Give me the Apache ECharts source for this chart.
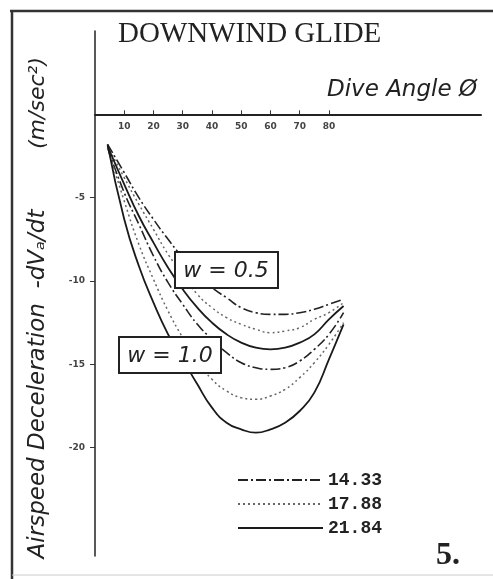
<!DOCTYPE html>
<html>
<head>
<meta charset="utf-8">
<script src="https://cdn.jsdelivr.net/npm/echarts@6/dist/echarts.min.js"></script>
<style>
html,body{margin:0;padding:0;background:#fff;}
#chart{width:493px;height:579px;}
</style>
</head>
<body>
<div id="chart"></div>
<script>
// Dive angle (degrees)
const angles = [4.3, 10, 15, 20, 25, 30, 35, 40, 45, 50, 55, 60, 65, 70, 75, 80, 85];
// Airspeed deceleration, w = 0.5
const w05_1433 = [-1.8, -3.5, -5.0, -6.3, -7.5, -8.6, -9.6, -10.4, -11.0, -11.6, -11.9, -12.0, -12.0, -11.9, -11.7, -11.4, -11.1];
const w05_1788 = [-1.9, -3.8, -5.4, -6.9, -8.4, -9.6, -10.8, -11.6, -12.2, -12.6, -12.9, -13.1, -13.0, -12.8, -12.3, -11.9, -11.3];
const w05_2184 = [-1.9, -4.2, -6.1, -7.7, -9.2, -10.5, -11.6, -12.5, -13.2, -13.7, -14.0, -14.1, -14.0, -13.7, -13.2, -12.3, -11.5];
// Airspeed deceleration, w = 1.0
const w10_1433 = [-2.0, -4.7, -6.6, -8.5, -10.1, -11.4, -12.6, -13.5, -14.3, -14.9, -15.2, -15.3, -15.2, -14.8, -14.1, -13.2, -11.9];
const w10_1788 = [-2.0, -5.2, -7.8, -9.9, -11.8, -13.4, -14.8, -15.9, -16.6, -17.0, -17.1, -16.9, -16.5, -15.8, -14.9, -13.8, -12.5];
const w10_2184 = [-1.8, -6.3, -9.1, -11.3, -13.2, -14.7, -16.2, -17.6, -18.5, -18.9, -19.1, -18.9, -18.5, -17.8, -16.7, -14.7, -12.6];
// Legend names (speeds)
const speeds = ['14.33', '17.88', '21.84'];
// Tick labels
const xTicks = [10, 20, 30, 40, 50, 60, 70, 80];
const yTicks = [-5, -10, -15, -20];

const styles = {
  '14.33': {color: '#222', width: 1.6, type: [10, 3, 2, 3]},
  '17.88': {color: '#666', width: 1.5, type: [2, 3]},
  '21.84': {color: '#1a1a1a', width: 1.8, type: 'solid'}
};

function pairs(vals) { return angles.map((a, i) => [a, vals[i]]); }
function mk(name, vals) {
  return {
    name: name, type: 'line', smooth: true, symbol: 'none',
    data: pairs(vals), lineStyle: styles[name], z: 2,
    itemStyle: {color: styles[name].color},
    emphasis: {disabled: true}
  };
}

const yMin = -26.5, yMax = 5;
const gridTop = 31, gridBottom = 23, H = 579;
const zeroOffset = -((H - gridTop - gridBottom) * yMax / (yMax - yMin));

const chart = echarts.init(document.getElementById('chart'));
chart.setOption({
  animation: false,
  backgroundColor: '#fff',
  grid: {left: 95, right: 12, top: gridTop, bottom: gridBottom},
  xAxis: {
    type: 'value', min: 0, max: 132, position: 'top', offset: zeroOffset,
    axisLine: {onZero: false, lineStyle: {color: '#222', width: 2}},
    axisTick: {show: true, length: 4, customValues: xTicks, lineStyle: {color: '#333'}},
    axisLabel: {customValues: xTicks, inside: true, margin: 8, fontSize: 9, fontWeight: 'bold',
      fontFamily: 'DejaVu Sans', color: '#444'},
    splitLine: {show: false}
  },
  yAxis: {
    type: 'value', min: yMin, max: yMax,
    axisLine: {show: true, onZero: false, lineStyle: {color: '#222', width: 1.5}},
    axisTick: {show: true, length: 5, customValues: yTicks, lineStyle: {color: '#333'}},
    axisLabel: {customValues: yTicks, margin: 10, fontSize: 9, fontWeight: 'bold',
      fontFamily: 'DejaVu Sans', color: '#444'},
    splitLine: {show: false}
  },
  legend: {
    data: speeds, orient: 'vertical', left: 232, top: 466,
    itemWidth: 85, itemHeight: 14, itemGap: 6, selectedMode: false,
    itemStyle: {opacity: 0},
    textStyle: {fontFamily: 'Liberation Mono', fontWeight: 'bold', fontSize: 18,
      color: '#222', lineHeight: 14}
  },
  series: [
    mk('14.33', w05_1433), mk('17.88', w05_1788), mk('21.84', w05_2184),
    mk('14.33', w10_1433), mk('17.88', w10_1788), mk('21.84', w10_2184)
  ],
  graphic: [
    {type: 'line', z: 50, shape: {x1: 10, y1: 11, x2: 493, y2: 11}, style: {stroke: '#333', lineWidth: 2.5}},
    {type: 'line', z: 50, shape: {x1: 12, y1: 10, x2: 12, y2: 579}, style: {stroke: '#333', lineWidth: 2.5}},
    {type: 'line', z: 50, shape: {x1: 12, y1: 575, x2: 493, y2: 575}, style: {stroke: '#ccc', lineWidth: 1}},
    {type: 'text', z: 50, left: 118, top: 20, style: {text: 'DOWNWIND GLIDE',
      font: '29px "Liberation Serif"', fill: '#222'}},
    {type: 'text', z: 50, right: 16, top: 79, style: {text: 'Dive Angle \u00D8',
      font: 'oblique 23px "DejaVu Sans"', fill: '#222'}},
    {type: 'text', z: 50, x: 38, y: 384, rotation: Math.PI / 2,
      style: {text: 'Airspeed Deceleration  -dV\u2090/dt', font: 'oblique 23px "DejaVu Sans"',
        fill: '#222', align: 'center', verticalAlign: 'middle'}},
    {type: 'text', z: 50, x: 38, y: 103, rotation: Math.PI / 2,
      style: {text: '(m/sec\u00B2)', font: 'oblique 22px "DejaVu Sans"',
        fill: '#222', align: 'center', verticalAlign: 'middle'}},
    {type: 'rect', z: 100, shape: {x: 175, y: 252, width: 103, height: 36},
      style: {fill: '#fff', stroke: '#222', lineWidth: 2}},
    {type: 'text', z: 101, x: 226, y: 271, style: {text: 'w = 0.5',
      font: 'oblique 22px "DejaVu Sans"', fill: '#222', align: 'center', verticalAlign: 'middle'}},
    {type: 'rect', z: 100, shape: {x: 119, y: 337, width: 102, height: 36},
      style: {fill: '#fff', stroke: '#222', lineWidth: 2}},
    {type: 'text', z: 101, x: 170, y: 356, style: {text: 'w = 1.0',
      font: 'oblique 22px "DejaVu Sans"', fill: '#222', align: 'center', verticalAlign: 'middle'}},
    {type: 'text', z: 50, x: 448, y: 556, style: {text: '5.',
      font: 'bold 32px "Liberation Serif"', fill: '#222', align: 'center', verticalAlign: 'middle'}}
  ]
});
</script>
</body>
</html>
